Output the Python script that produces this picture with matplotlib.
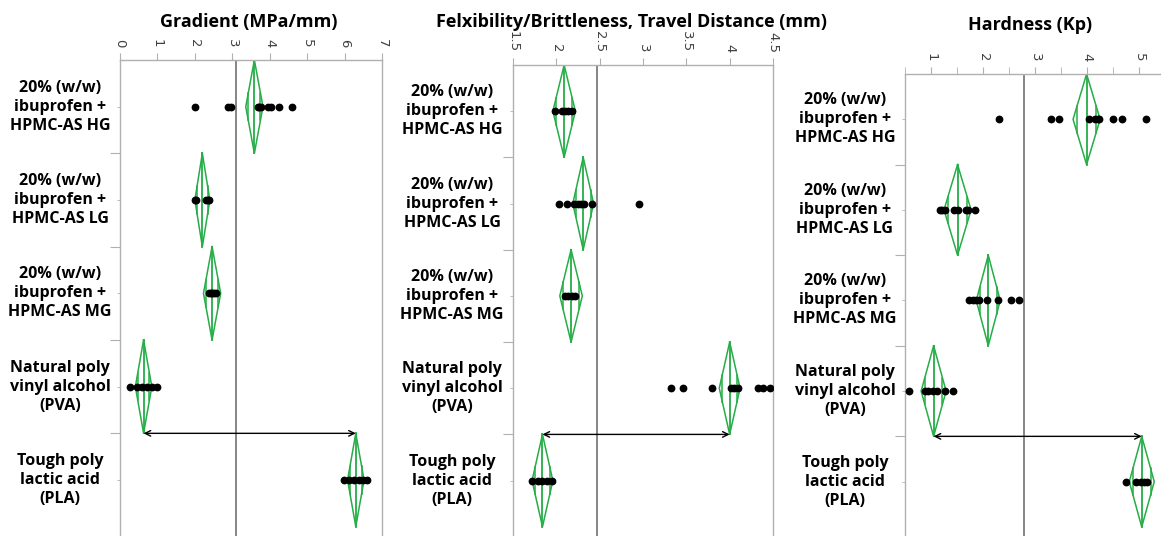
import numpy as np
import matplotlib
matplotlib.use("Agg")
import matplotlib.pyplot as plt
import matplotlib.transforms as mtrans

# ---------------- data ----------------
categories = ["20% (w/w)\nibuprofen +\nHPMC-AS HG",
              "20% (w/w)\nibuprofen +\nHPMC-AS LG",
              "20% (w/w)\nibuprofen +\nHPMC-AS MG",
              "Natural poly\nvinyl alcohol\n(PVA)",
              "Tough poly\nlactic acid\n(PLA)"]

titles = ["Gradient (MPa/mm)",
          "Felxibility/Brittleness, Travel Distance (mm)",
          "Hardness (Kp)"]

# Gradient (MPa/mm)
grad_hg = [2.01, 2.89, 2.96, 3.68, 3.72, 3.77, 3.95, 4.04, 4.26, 4.60]
grad_lg = [2.01, 2.04, 2.30, 2.34, 2.37]
grad_mg = [2.39, 2.43, 2.47, 2.52, 2.56]
grad_pva = [0.27, 0.45, 0.58, 0.71, 0.85, 0.98]
grad_pla = [5.98, 6.12, 6.25, 6.38, 6.50, 6.59]
grad_means = [3.59, 2.20, 2.46, 0.63, 6.30]
grad_ci = [0.23, 0.20, 0.23, 0.22, 0.22]
grad_grand = 3.10

# Travel distance (mm)
trav_hg = [1.985, 2.06, 2.10, 2.14, 2.18]
trav_lg = [2.03, 2.12, 2.20, 2.25, 2.29, 2.32, 2.41, 2.95]
trav_mg = [2.10, 2.14, 2.18, 2.22]
trav_pva = [3.32, 3.46, 3.80, 4.01, 4.05, 4.10, 4.33, 4.39, 4.47]
trav_pla = [1.72, 1.79, 1.83, 1.89, 1.95]
trav_means = [2.09, 2.31, 2.17, 4.00, 1.84]
trav_ci = [0.13, 0.12, 0.13, 0.12, 0.12]
trav_grand = 2.47

# Hardness (Kp)
hard_hg = [2.31, 3.30, 3.46, 4.04, 4.15, 4.20, 4.23, 4.49, 4.67, 5.14]
hard_lg = [1.17, 1.22, 1.27, 1.44, 1.51, 1.67, 1.72, 1.85]
hard_mg = [1.73, 1.80, 1.86, 1.92, 2.08, 2.28, 2.53, 2.69]
hard_pva = [0.58, 0.88, 0.95, 1.03, 1.12, 1.27, 1.42]
hard_pla = [4.74, 4.94, 5.04, 5.10, 5.16]
hard_means = [3.99, 1.51, 2.10, 1.05, 5.05]
hard_ci = [0.26, 0.26, 0.23, 0.24, 0.24]
hard_grand = 2.79

grad_ticks = [0, 1, 2, 3, 4, 5, 6, 7]
trav_ticks = [1.5, 2, 2.5, 3, 3.5, 4, 4.5]
trav_ticklabels = ["1.5", "2", "2.5", "3", "3.5", "4", "4.5"]
hard_ticks = [1, 2, 3, 4, 5]
hard_minor = [0.5, 1.5, 2.5, 3.5, 4.5]

panels = [
    dict(data=[grad_hg, grad_lg, grad_mg, grad_pva, grad_pla], means=grad_means,
         ci=grad_ci, grand=grad_grand, xlim=(0, 7), ticks=grad_ticks,
         ticklabels=[str(t) for t in grad_ticks], minor=[],
         box=(120, 382, 60), label_x=60, title_xy=(249, 22), right_spine=True),
    dict(data=[trav_hg, trav_lg, trav_mg, trav_pva, trav_pla], means=trav_means,
         ci=trav_ci, grand=trav_grand, xlim=(1.5, 4.5), ticks=trav_ticks,
         ticklabels=trav_ticklabels, minor=[],
         box=(513, 773, 65), label_x=452, title_xy=(632, 22), right_spine=True),
    dict(data=[hard_hg, hard_lg, hard_mg, hard_pva, hard_pla], means=hard_means,
         ci=hard_ci, grand=hard_grand, xlim=(0.5, 5.42), ticks=hard_ticks,
         ticklabels=[str(t) for t in hard_ticks], minor=hard_minor,
         box=(905, 1161, 74), label_x=845, title_xy=(1030, 25), right_spine=False),
]

W, H = 1161, 536
fig = plt.figure(figsize=(W / 100, H / 100), dpi=100)
fig.patch.set_facecolor("white")

GREEN = "#25ad47"
SPINE = "#b0b0b0"
TITLE_FONT = dict(family="Open Sans", weight="bold", size=13)
LABEL_FONT = dict(family="Open Sans", weight="bold", size=11.5)

for p in panels:
    x0, x1, top = p["box"]
    ax = fig.add_axes([x0 / W, 0, (x1 - x0) / W, (H - top) / H])
    ax.set_xlim(*p["xlim"])
    ax.set_ylim(4.6, -0.5)

    # grand mean line
    ax.axvline(p["grand"], color="#858585", lw=1.4, zorder=1)

    for i, (vals, m, hw) in enumerate(zip(p["data"], p["means"], p["ci"])):
        # mean diamond
        ax.plot([m, m + hw, m, m - hw, m], [i - 0.5, i, i + 0.5, i, i - 0.5],
                color=GREEN, lw=1.1, zorder=2)
        ax.plot([m, m], [i - 0.5, i + 0.5], color=GREEN, lw=1.3, zorder=2)
        d = hw / np.sqrt(2)
        hh = 0.5 * (1 - d / hw)
        for s in (-1, 1):
            ax.plot([m + s * d, m + s * d], [i - hh, i + hh], color=GREEN, lw=1.1, zorder=2)
        # points
        ax.plot(vals, [i] * len(vals), "o", color="black", ms=4.6, zorder=3)

    # arrow between PVA and PLA means
    ax.annotate("", xy=(p["means"][4], 3.5), xytext=(p["means"][3], 3.5),
                arrowprops=dict(arrowstyle="<->", color="black", lw=1.0,
                                shrinkA=0, shrinkB=0), zorder=4)

    # axes styling
    ax.xaxis.tick_top()
    ax.set_xticks(p["ticks"])
    ax.set_xticklabels(p["ticklabels"])
    if p["minor"]:
        ax.set_xticks(p["minor"], minor=True)
    ax.tick_params(axis="x", which="both", top=True, bottom=False, length=5,
                   color=SPINE, labelrotation=-90, labelsize=9.5,
                   labelcolor="#404040", pad=4)
    ax.set_yticks([0.5, 1.5, 2.5, 3.5])
    ax.set_yticks([0, 1, 2, 3, 4], minor=True)
    ax.set_yticklabels([])
    ax.tick_params(axis="y", which="major", length=7, color=SPINE)
    ax.tick_params(axis="y", which="minor", length=2, color=SPINE)
    for side in ["top", "left", "right", "bottom"]:
        ax.spines[side].set_color(SPINE)
        ax.spines[side].set_linewidth(1.0)
    ax.spines["bottom"].set_visible(False)
    ax.spines["right"].set_visible(p["right_spine"])

    # category labels
    tr = mtrans.blended_transform_factory(fig.transFigure, ax.transData)
    for i, c in enumerate(categories):
        ax.text(p["label_x"] / W, i, c, transform=tr, ha="center", va="center",
                multialignment="center", linespacing=1.25, color="black",
                clip_on=False, **LABEL_FONT)

for p, t in zip(panels, titles):
    tx, ty = p["title_xy"]
    fig.text(tx / W, 1 - ty / H, t, ha="center", va="center", **TITLE_FONT)

fig.savefig("out.png", dpi=100, facecolor="white")
